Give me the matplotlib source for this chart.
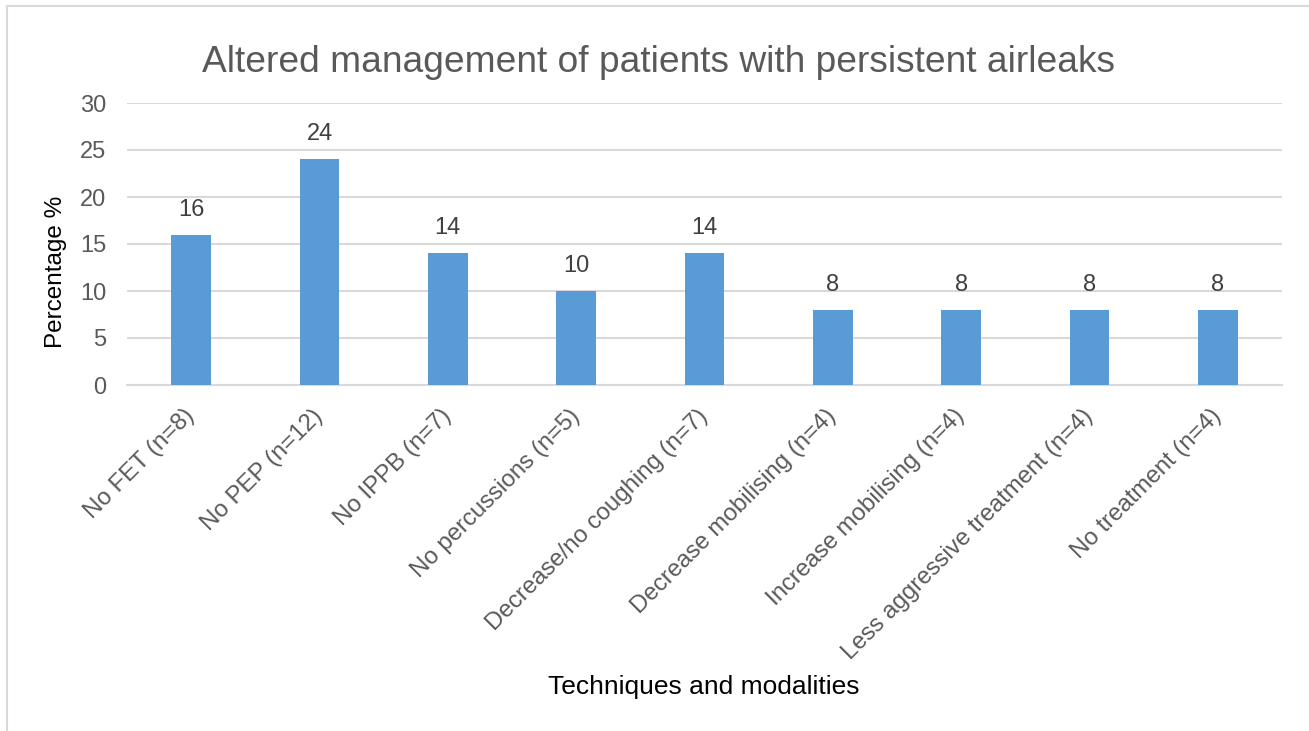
import matplotlib
matplotlib.use("Agg")
import matplotlib.pyplot as plt
from matplotlib.patches import Rectangle

plt.rcParams['font.family'] = ['Liberation Sans', 'DejaVu Sans']

categories = ["No FET (n=8)", "No PEP (n=12)", "No IPPB (n=7)", "No percussions (n=5)",
              "Decrease/no coughing (n=7)", "Decrease mobilising (n=4)",
              "Increase mobilising (n=4)", "Less aggressive treatment (n=4)",
              "No treatment (n=4)"]
values = [16, 24, 14, 10, 14, 8, 8, 8, 8]
yticks = [0, 5, 10, 15, 20, 25, 30]

W, H = 1309, 731
fig = plt.figure(figsize=(W / 100, H / 100), dpi=100)
ax = fig.add_axes([127 / W, 1 - 385 / H, (1282 - 127) / W, (385 - 103) / H])

x = list(range(len(categories)))
bars = ax.bar(x, values, width=0.31, color='#5B9BD5', zorder=3)
ax.set_xlim(-0.5, len(categories) - 0.5)
ax.set_ylim(0, 30)
ax.set_yticks(yticks)
ax.set_yticklabels([str(t) for t in yticks], fontsize=17, color='#595959')
ax.yaxis.grid(True, color='#D9D9D9', linewidth=1.5, zorder=0)
ax.set_axisbelow(True)
for s in ['top', 'right', 'left']:
    ax.spines[s].set_visible(False)
ax.spines['bottom'].set_color('#D9D9D9')
ax.spines['bottom'].set_linewidth(1.5)
ax.tick_params(axis='both', length=0)
ax.tick_params(axis='y', pad=15)
ax.set_xticks(x)
ax.set_xticklabels(categories, rotation=45, ha='right', va='center',
                   rotation_mode='anchor', fontsize=17.3, color='#595959')
ax.tick_params(axis='x', pad=20)

for xi, v in zip(x, values):
    ax.annotate(str(v), (xi, v), xytext=(0, 25), textcoords='offset pixels',
                ha='center', va='center', fontsize=17, color='#404040')

fig.text(658 / W, 1 - 62 / H, "Altered management of patients with persistent airleaks",
         ha='center', va='center', fontsize=26.7, color='#595959')
fig.text(704 / W, 1 - 687 / H, "Techniques and modalities",
         ha='center', va='center', fontsize=19, color='black')
fig.text(56 / W, 1 - 272 / H, "Percentage %", rotation=90,
         ha='center', va='center', fontsize=17.5, color='black')

fig.patches.append(Rectangle((7 / W, -0.1), 1.2, 1.1 - 6 / H, transform=fig.transFigure,
                             fill=False, edgecolor='#D9D9D9', linewidth=1.5))

fig.savefig("out.png", dpi=100, facecolor='white')
